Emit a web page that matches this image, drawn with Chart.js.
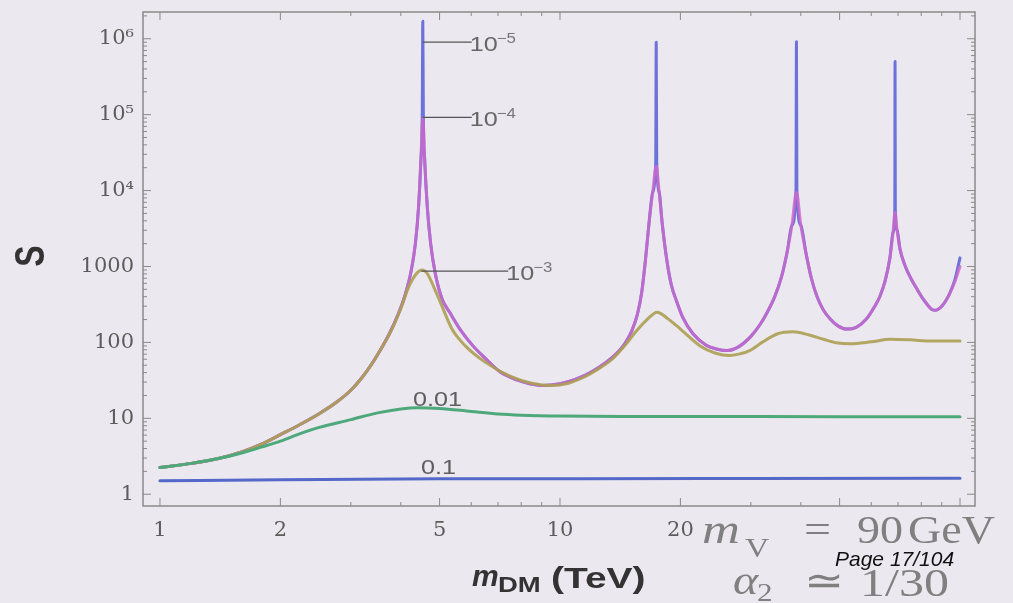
<!DOCTYPE html>
<html>
<head>
<meta charset="utf-8">
<script src="https://cdn.jsdelivr.net/npm/chart.js@4.4.1/dist/chart.umd.min.js"></script>
<style>
  html, body { margin: 0; padding: 0; background: #ebe8ef; }
  #wrap { width: 1013px; height: 603px; position: relative; }
</style>
</head>
<body>
<div id="wrap"><canvas id="c" width="1013" height="603"></canvas></div>
<script>
// ---------- data ----------
// alpha = 1e-5 (blue, sharpest resonances)
const s5X = [1, 1.2, 1.4, 1.6, 1.8, 2.0, 2.24, 2.5, 2.75, 3.0, 3.2, 3.4, 3.55, 3.75, 3.93, 4.1, 4.25, 4.35, 4.43, 4.49, 4.525, 4.54, 4.555, 4.59, 4.66, 4.75, 4.88, 5.07, 5.31, 5.62, 6.06, 6.5, 7.08, 7.8, 8.4, 9.06, 10, 11, 12, 13, 13.8, 14.5, 15.1, 15.6, 16.0, 16.35, 16.7, 17.05, 17.35, 17.4, 17.45, 17.7, 18.0, 18.5, 19.0, 19.6, 20.3, 21.5, 23.2, 24.6, 26.1, 28, 30, 31.6, 33, 34.4, 35.8, 37.0, 38.0, 38.9, 39.0, 39.1, 40.0, 41.2, 42.5, 44.0, 45.5, 47.5, 49.5, 52, 55, 58.4, 61, 63, 65, 66.8, 68.0, 68.7, 68.8, 68.9, 69.6, 70.8, 72.8, 75.5, 78.3, 80.5, 83, 85, 87, 89, 91.5, 94, 97, 100];
const s5Y = [2.25, 2.55, 2.95, 3.6, 4.6, 6.1, 8.3, 11.5, 16, 23.4, 34.5, 54, 78, 132, 227, 421, 900, 2000, 6000, 25000, 95000, 1700000, 95000, 25000, 6000, 2000, 800, 376, 245, 150, 90, 62, 41, 32, 28.5, 27, 28.5, 33, 41, 54, 70, 95, 140, 230, 450, 1200, 3800, 9500, 24000, 900000, 24000, 9500, 3800, 1200, 560, 340, 210, 130, 92, 82, 78, 88, 120, 171, 252, 398, 735, 1590, 3500, 10500, 910000, 10500, 3500, 1500, 700, 390, 270, 200, 165, 150, 158, 205, 290, 400, 650, 1300, 2800, 5800, 500000, 5800, 3000, 1690, 1040, 684, 490, 385, 311, 272, 265, 282, 335, 430, 660, 1300];

// alpha = 1e-4 (pink)
const s4X = [1, 1.2, 1.4, 1.6, 1.8, 2.0, 2.24, 2.5, 2.75, 3.0, 3.2, 3.4, 3.55, 3.75, 3.93, 4.1, 4.25, 4.35, 4.43, 4.49, 4.54, 4.59, 4.66, 4.75, 4.88, 5.07, 5.31, 5.62, 6.06, 6.5, 7.08, 7.8, 8.4, 9.06, 10, 11, 12, 13, 13.8, 14.5, 15.1, 15.6, 16.0, 16.35, 16.7, 17.05, 17.4, 17.7, 18.0, 18.5, 19.0, 19.6, 20.3, 21.5, 23.2, 24.6, 26.1, 28, 30, 31.6, 33, 34.4, 35.8, 37.0, 38.0, 39.0, 40.0, 41.2, 42.5, 44.0, 45.5, 47.5, 49.5, 52, 55, 58.4, 61, 63, 65, 66.8, 68.0, 68.8, 69.6, 70.8, 72.8, 75.5, 78.3, 80.5, 83, 85, 87, 89, 91.5, 94, 97, 100];
const s4Y = [2.25, 2.55, 2.95, 3.6, 4.6, 6.1, 8.3, 11.5, 16, 23.4, 34.5, 54, 78, 132, 227, 421, 900, 2000, 6000, 25000, 90000, 25000, 6000, 2000, 800, 376, 245, 150, 90, 62, 41, 32, 28.5, 27, 28.5, 33, 41, 54, 70, 95, 140, 230, 450, 1200, 3800, 9500, 21000, 9500, 3800, 1200, 560, 340, 210, 130, 92, 82, 78, 88, 120, 171, 252, 398, 735, 1590, 3500, 9500, 3500, 1500, 700, 390, 270, 200, 165, 150, 158, 205, 290, 400, 650, 1300, 2800, 5200, 3000, 1690, 1040, 684, 490, 385, 311, 272, 265, 282, 335, 430, 620, 1000];

// alpha = 1e-3 (olive)
const s3X = [1, 1.2, 1.4, 1.6, 1.8, 2.0, 2.24, 2.5, 2.75, 3.0, 3.2, 3.4, 3.55, 3.8, 4.0, 4.2, 4.4, 4.52, 4.65, 4.85, 5.07, 5.37, 5.8, 6.5, 7.5, 8.5, 9.5, 10.5, 11.5, 12.5, 13.5, 14.5, 15.5, 16.5, 17.5, 18.5, 20, 22.4, 24.5, 26.5, 28, 29.8, 32, 35, 38.2, 42, 45.3, 49, 53, 60, 67, 75, 85, 100];
const s3Y = [2.25, 2.55, 2.95, 3.6, 4.6, 6.1, 8.3, 11.5, 16, 23.4, 34.5, 54, 78, 150, 280, 560, 830, 900, 820, 520, 300, 150, 90, 55, 36, 29, 27, 29, 35, 45, 60, 90, 140, 200, 250, 210, 150, 90, 72, 67, 70, 78, 100, 130, 138, 125, 111, 99, 96, 102, 110, 108, 104, 104];

// alpha = 0.01 (green)
const s2X = [1, 1.2, 1.4, 1.6, 1.8, 2.0, 2.24, 2.5, 3.0, 3.5, 4.0, 4.4, 5.0, 6.0, 7.0, 8.0, 10, 15, 20, 50, 100];
const s2Y = [2.25, 2.55, 2.95, 3.5, 4.2, 5.0, 6.3, 7.6, 9.6, 11.8, 13.3, 13.8, 13.5, 12.3, 11.4, 11.0, 10.7, 10.6, 10.6, 10.5, 10.5];

// alpha = 0.1 (blue, flat)
const s1X = [1, 2, 5, 10, 30, 100];
const s1Y = [1.5, 1.55, 1.6, 1.6, 1.61, 1.62];

// axis ticks and labels
const xTickValues = [1, 2, 5, 10, 20];
const xTickLabels = ['1', '2', '5', '10', '20'];
const xMajor = [1, 2, 5, 10, 20, 50, 100];
const xMinor = [3, 4, 6, 7, 8, 9, 30, 40, 60, 70, 80, 90];
const yTickValues = [1, 10, 100, 1000, 1e4, 1e5, 1e6];
const yTickLabels = ['1', '10', '100', '1000', '10\u2074', '10\u2075', '10\u2076'];

// curve labels (base text, superscript) and their anchors in data units
const curveLabelBase = ['10', '10', '10'];
const curveLabelSup  = ['\u22125', '\u22124', '\u22123'];
const curveLabelAnchorX = [4.54, 4.54, 4.5];
const curveLabelAnchorY = [900000, 92000, 870];
const curveLabelDx = [47, 47, 85];
const flatLabels = ['0.01', '0.1'];
const flatLabelX = [4.29, 4.49];
const flatLabelY = [14.7, 1.83];

function pts(xs, ys) { return xs.map((x, i) => ({ x: x, y: ys[i] })); }

function sText(ctx, txt, x, y, font, color, sx) {
  ctx.save();
  ctx.font = font;
  ctx.fillStyle = color;
  ctx.textBaseline = 'alphabetic';
  ctx.textAlign = 'left';
  ctx.translate(x, y);
  ctx.scale(sx, 1);
  ctx.fillText(txt, 0, 0);
  ctx.restore();
}

const framePlugin = {
  id: 'framePlugin',
  beforeDraw(chart) {
    const ctx = chart.ctx;
    ctx.save();
    ctx.fillStyle = '#ebe8ef';
    ctx.fillRect(0, 0, chart.width, chart.height);
    ctx.restore();
  },
  afterDatasetsDraw(chart) {
    const ctx = chart.ctx, a = chart.chartArea, xs = chart.scales.x, ys = chart.scales.y;
    ctx.save();
    ctx.strokeStyle = '#8a8a8a';
    ctx.lineWidth = 1.5;
    ctx.strokeRect(a.left, a.top, a.right - a.left, a.bottom - a.top);
    ctx.lineWidth = 1;
    const seg = (x1, y1, x2, y2) => { ctx.beginPath(); ctx.moveTo(x1, y1); ctx.lineTo(x2, y2); ctx.stroke(); };
    xMajor.forEach(v => { const p = xs.getPixelForValue(v); seg(p, a.bottom, p, a.bottom - 8); seg(p, a.top, p, a.top + 8); });
    xMinor.forEach(v => { const p = xs.getPixelForValue(v); seg(p, a.bottom, p, a.bottom - 4); seg(p, a.top, p, a.top + 4); });
    yTickValues.forEach(v => {
      const p = ys.getPixelForValue(v);
      seg(a.left, p, a.left + 8, p); seg(a.right, p, a.right - 8, p);
      for (let k = 2; k <= 9; k++) {
        const m = v * k;
        if (m > ys.max) break;
        const q = ys.getPixelForValue(m);
        seg(a.left, q, a.left + 4, q); seg(a.right, q, a.right - 4, q);
      }
    });
    // curve labels with leader lines
    ctx.strokeStyle = '#555';
    ctx.lineWidth = 1.2;
    curveLabelBase.forEach((b, i) => {
      const px = xs.getPixelForValue(curveLabelAnchorX[i]);
      const py = ys.getPixelForValue(curveLabelAnchorY[i]);
      const tx = px + curveLabelDx[i];
      seg(px, py, tx + 2, py);
      sText(ctx, b, tx, py + 9, '21px "Liberation Sans", Arial, sans-serif', '#666', 1.2);
      sText(ctx, curveLabelSup[i], tx + 27, py + 1, '14px "Liberation Sans", Arial, sans-serif', '#777', 1.2);
    });
    flatLabels.forEach((t, i) => {
      sText(ctx, t, xs.getPixelForValue(flatLabelX[i]), ys.getPixelForValue(flatLabelY[i]),
        '21px "Liberation Sans", Arial, sans-serif', '#5e5e5e', 1.2);
    });
    ctx.restore();
  },
  afterDraw(chart) {
    const ctx = chart.ctx;
    // y title
    ctx.save();
    ctx.translate(33, 256);
    ctx.scale(1.3, 1);
    ctx.rotate(-Math.PI / 2);
    ctx.font = 'bold 32px "Liberation Sans", Arial, sans-serif';
    ctx.fillStyle = '#333';
    ctx.textAlign = 'center';
    ctx.textBaseline = 'middle';
    ctx.fillText('S', 0, 0);
    ctx.restore();
    // x title
    sText(ctx, 'm', 472, 586, 'bold italic 30px "Liberation Sans", Arial, sans-serif', '#333', 1.0);
    sText(ctx, 'DM', 498, 592, 'bold 22px "Liberation Sans", Arial, sans-serif', '#333', 1.25);
    sText(ctx, '(TeV)', 551, 588, 'bold 30px "Liberation Sans", Arial, sans-serif', '#333', 1.3);
    // parameter overlay
    const g = '#808080';
    const serif = '"Liberation Serif", "Times New Roman", serif';
    sText(ctx, 'm', 702, 543, 'italic 42px ' + serif, g, 1.25);
    sText(ctx, 'V', 745, 557, '28px ' + serif, g, 1.2);
    sText(ctx, '=', 804, 543, '40px ' + serif, g, 1.2);
    sText(ctx, '90', 857, 543, '40px ' + serif, g, 1.15);
    sText(ctx, 'GeV', 908, 543, '40px ' + serif, g, 1.15);
    sText(ctx, '\u03b1', 733, 594, 'italic 40px ' + serif, g, 1.2);
    sText(ctx, '2', 757, 601, '26px ' + serif, g, 1.2);
    sText(ctx, '\u2243', 804, 594, '40px ' + serif, g, 1.2);
    sText(ctx, '1/30', 860, 596, '40px ' + serif, g, 1.25);
    sText(ctx, 'Page 17/104', 835, 566, 'italic 21px "Liberation Sans", Arial, sans-serif', '#111', 1.0);
  }
};

const base = { showLine: true, pointRadius: 0, borderWidth: 3, fill: false,
  cubicInterpolationMode: 'monotone', borderJoinStyle: 'round', borderCapStyle: 'round' };

new Chart(document.getElementById('c'), {
  type: 'scatter',
  data: {
    datasets: [
      Object.assign({ label: '0.1', data: pts(s1X, s1Y), borderColor: '#5468c9' }, base),
      Object.assign({ label: '0.01', data: pts(s2X, s2Y), borderColor: '#4ea97a' }, base),
      Object.assign({ label: '1e-3', data: pts(s3X, s3Y), borderColor: 'rgba(172,158,82,0.9)' }, base),
      Object.assign({ label: '1e-4', data: pts(s4X, s4Y), borderColor: 'rgba(208,104,202,0.8)' }, base),
      Object.assign({ label: '1e-5', data: pts(s5X, s5Y), borderColor: '#6d72da' }, base)
    ]
  },
  options: {
    responsive: false,
    animation: false,
    layout: { padding: { top: 12, right: 38, left: 0, bottom: 0 } },
    plugins: { legend: { display: false }, tooltip: { enabled: false } },
    scales: {
      x: {
        type: 'logarithmic', min: 0.907, max: 109,
        afterBuildTicks: s => { s.ticks = xTickValues.map(v => ({ value: v })); },
        afterFit: s => { s.height = 97; s.paddingLeft = 0; s.paddingRight = 0; },
        grid: { display: false, drawTicks: false },
        border: { display: false },
        ticks: { padding: 12, color: '#5c5c5c', font: { family: '"DejaVu Serif", serif', size: 21 },
          maxRotation: 0, autoSkip: false,
          callback: (v) => { const i = xTickValues.indexOf(v); return i >= 0 ? xTickLabels[i] : ''; } }
      },
      y: {
        type: 'logarithmic', min: 0.74, max: 2.25e6,
        afterBuildTicks: s => { s.ticks = yTickValues.map(v => ({ value: v })); },
        afterFit: s => { s.width = 143; s.paddingTop = 0; s.paddingBottom = 0; },
        grid: { display: false, drawTicks: false },
        border: { display: false },
        ticks: { padding: 9, color: '#5c5c5c', font: { family: '"DejaVu Serif", serif', size: 21 },
          autoSkip: false,
          callback: (v) => { const i = yTickValues.indexOf(v); return i >= 0 ? yTickLabels[i] : ''; } }
      }
    }
  },
  plugins: [framePlugin]
});
</script>
</body>
</html>
